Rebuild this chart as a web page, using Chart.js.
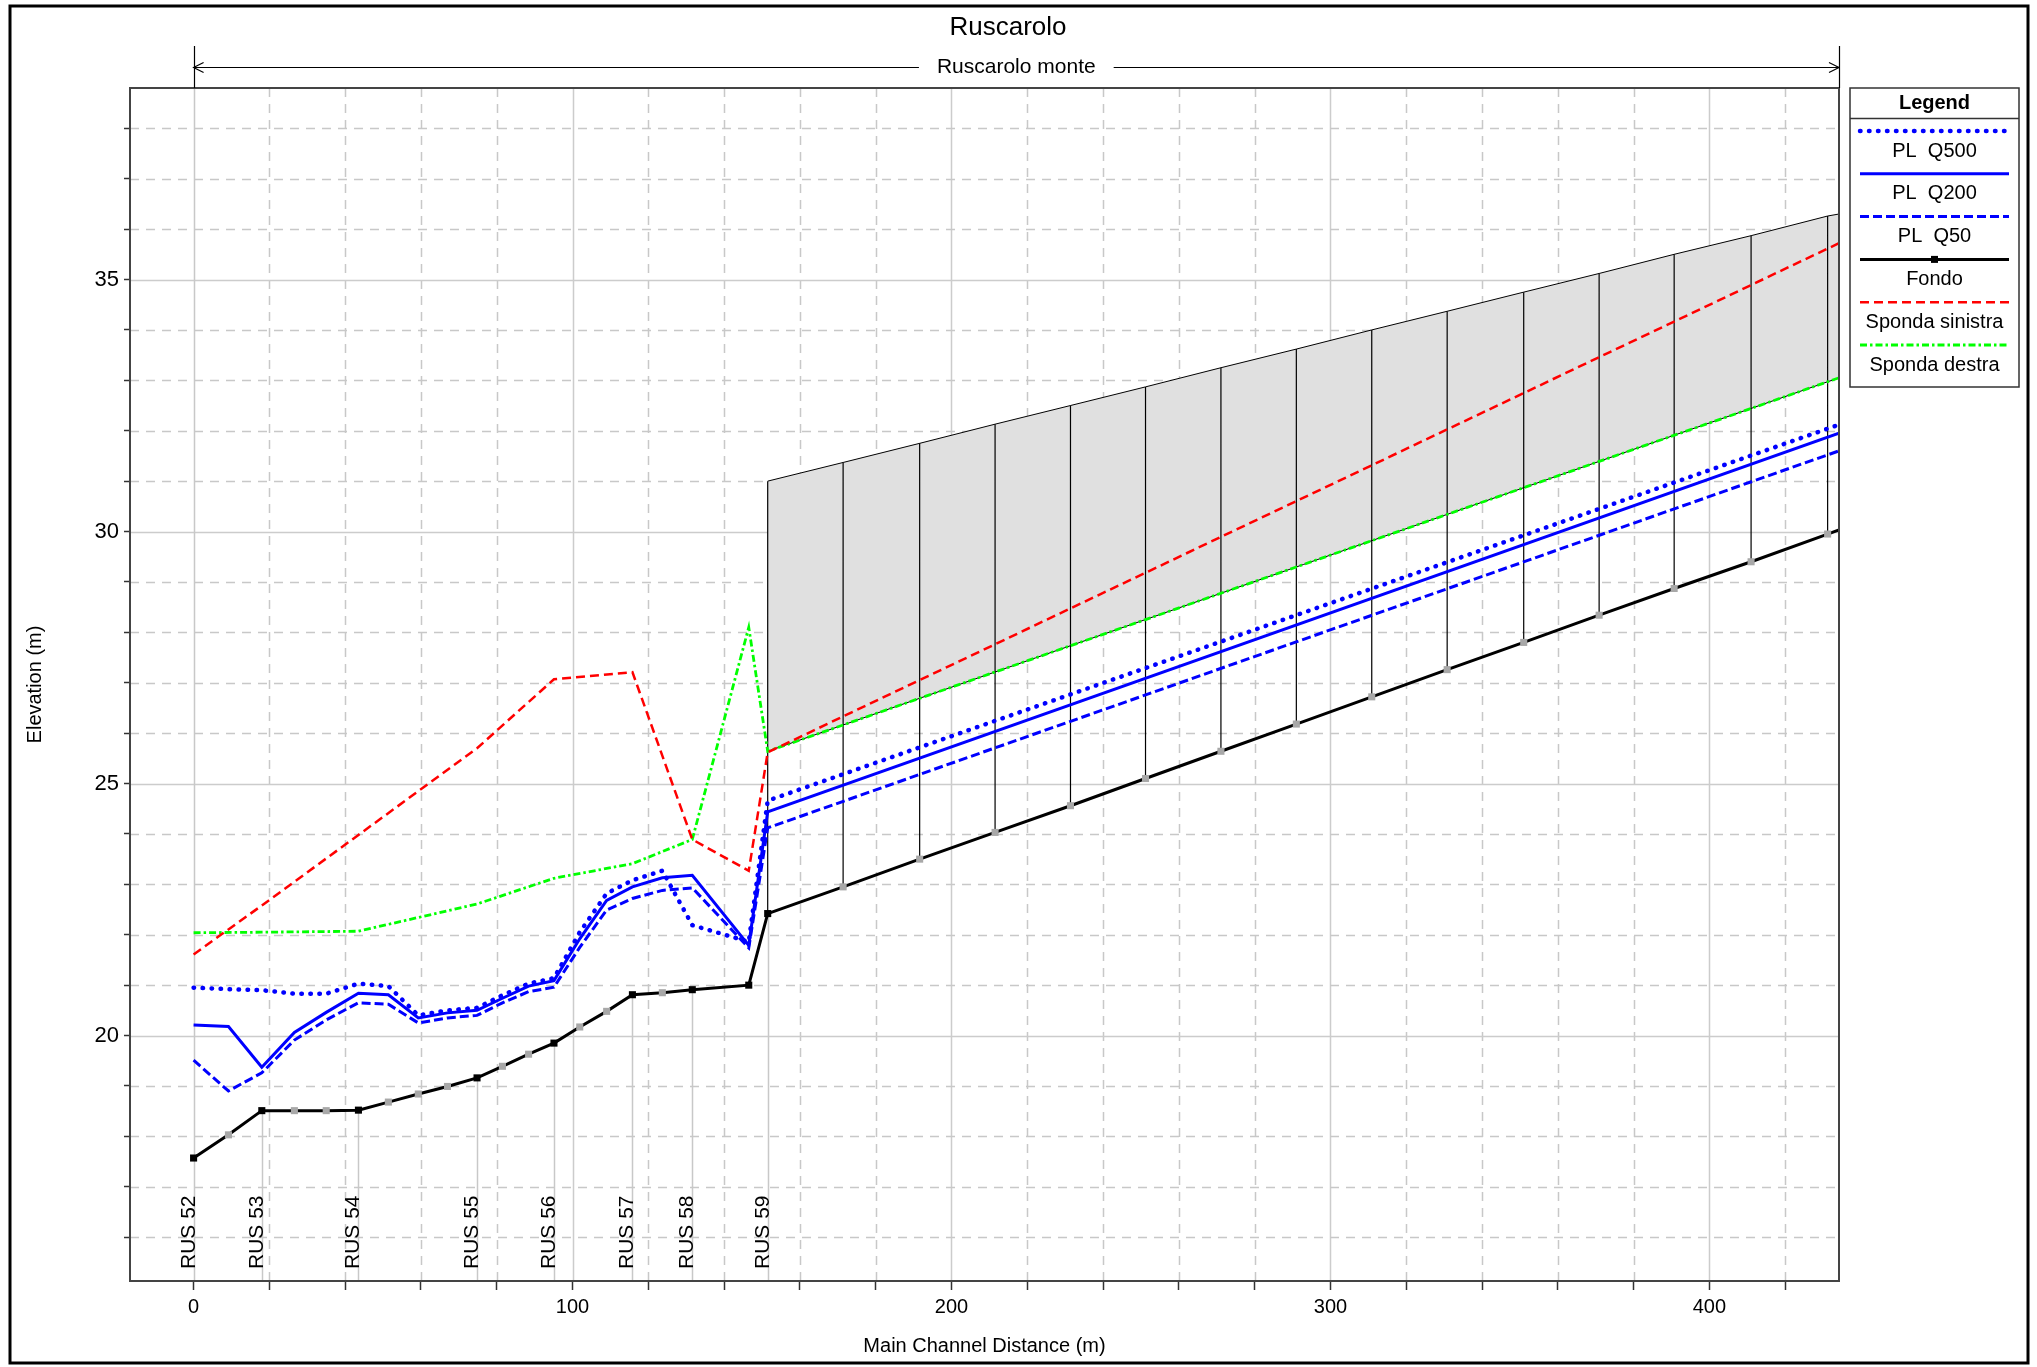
<!DOCTYPE html>
<html>
<head>
<meta charset="utf-8">
<title>Ruscarolo - profilo</title>
<script src="https://cdn.jsdelivr.net/npm/chart.js@4.4.1/dist/chart.umd.min.js"></script>
<style>
  html, body { margin: 0; padding: 0; background: #fff; }
  #wrap { position: relative; width: 2037px; height: 1367px; }
</style>
</head>
<body>
<div id="wrap"><canvas id="profile"></canvas></div>
<script>
// ======================== Data ========================

// stations of the open channel reach (m) and bed elevation (m)
const stations = [0, 9.2, 18.0, 26.6, 35.0, 43.5, 51.4, 59.3, 67.0, 74.8, 81.5, 88.4, 95.1, 101.9, 109.0, 115.8, 123.7, 131.6, 146.5, 151.5];
const fondoOpen = [17.57, 18.03, 18.51, 18.51, 18.51, 18.52, 18.68, 18.84, 18.99, 19.16, 19.39, 19.63, 19.85, 20.17, 20.48, 20.81, 20.85, 20.91, 21.00, 22.42];

// covered stretch (culvert) stations, bed and deck elevations
const culvertStations = [171.4, 191.6, 211.5, 231.4, 251.2, 271.1, 291.0, 310.9, 330.8, 351.0, 370.9, 390.7, 411.0, 431.2];
const fondoCulvert = [22.95, 23.50, 24.03, 24.56, 25.10, 25.64, 26.18, 26.72, 27.26, 27.80, 28.34, 28.87, 29.40, 29.95];
const deckTop = [31.00, 31.37, 31.75, 32.13, 32.50, 32.87, 33.25, 33.62, 34.00, 34.37, 34.75, 35.12, 35.50, 35.87, 36.26];
const reachEnd = 434.2;
const fondoEnd = 30.03;
const deckEnd = 36.30;
const lowChordX = [151.5, 434.2];
const lowChord = [25.64, 33.05];

// cross sections
const sectionX = [0, 18.0, 43.5, 74.8, 95.1, 115.8, 131.6, 151.5];
const sectionNames = ['RUS 52', 'RUS 53', 'RUS 54', 'RUS 55', 'RUS 56', 'RUS 57', 'RUS 58', 'RUS 59'];
const blackMarkers = [0, 18.0, 43.5, 74.8, 95.1, 115.8, 131.6, 146.5, 151.5];

// water surfaces (stations + reach end)
const wsX = stations.concat([reachEnd]);
const q500 = [20.95, 20.92, 20.90, 20.83, 20.83, 21.03, 20.98, 20.40, 20.50, 20.55, 20.80, 21.03, 21.14, 22.05, 22.82, 23.08, 23.27, 22.19, 21.86, 24.66, 32.12];
const q200 = [20.21, 20.18, 19.37, 20.06, 20.46, 20.84, 20.81, 20.35, 20.45, 20.50, 20.74, 20.98, 21.09, 21.92, 22.68, 22.95, 23.13, 23.18, 21.79, 24.44, 31.95];
const q50 = [19.51, 18.90, 19.26, 19.91, 20.31, 20.65, 20.62, 20.25, 20.35, 20.40, 20.65, 20.87, 20.96, 21.75, 22.49, 22.72, 22.88, 22.93, 21.74, 24.12, 31.60];

// banks
const bankX = [0, 18.0, 43.5, 74.8, 95.1, 115.8, 131.6, 146.5, 151.5, 434.2];
const spondaSinistra = [21.61, 22.58, 23.98, 25.70, 27.07, 27.21, 23.89, 23.27, 25.62, 35.72];
const spondaDestra = [22.04, 22.05, 22.07, 22.61, 23.12, 23.41, 23.89, 28.10, 25.64, 33.05];

// axes
const xLabelValues = [0, 100, 200, 300, 400];
const yLabelValues = [20, 25, 30, 35];

// ======================== Helpers ========================

const FONT = 'Liberation Sans, Arial, sans-serif';

function pts(xs, ys) {
    return xs.map((x, i) => ({ x: x, y: ys[i] }));
}

const fondoX = stations.concat(culvertStations, [reachEnd]);
const fondoY = fondoOpen.concat(fondoCulvert, [fondoEnd]);
const deckX = [151.5].concat(culvertStations);

function fondoAt(x) {
    return fondoY[fondoX.indexOf(x)];
}

// vertical lines of the covered stretch, one segment per station
const culvertLines = [];
deckX.forEach((x, i) => {
    culvertLines.push({ x: x, y: deckTop[i] });
    culvertLines.push({ x: x, y: fondoAt(x) });
    culvertLines.push({ x: x, y: null });
});

// ======================== Plugins ========================

const backdrop = {
    id: 'backdrop',
    beforeDraw(chart) {
        const { ctx, chartArea: a, scales: { x, y } } = chart;
        ctx.save();
        ctx.fillStyle = '#fff';
        ctx.fillRect(0, 0, chart.width, chart.height);

        // dashed minor grid, solid major grid
        ctx.lineWidth = 1.5;
        for (let v = 20; v < reachEnd; v += 20) {
            const p = Math.round(x.getPixelForValue(v)) + 0.5;
            const major = v % 100 === 0;
            ctx.strokeStyle = major ? '#cccccc' : '#c8c8c8';
            ctx.setLineDash(major ? [] : [9, 7]);
            ctx.beginPath();
            ctx.moveTo(p, a.top);
            ctx.lineTo(p, a.bottom);
            ctx.stroke();
        }
        for (let v = 16; v <= 38; v++) {
            const p = Math.round(y.getPixelForValue(v)) + 0.5;
            const major = v % 5 === 0;
            ctx.strokeStyle = major ? '#cccccc' : '#c8c8c8';
            ctx.setLineDash(major ? [] : [9, 7]);
            ctx.beginPath();
            ctx.moveTo(a.left, p);
            ctx.lineTo(a.right, p);
            ctx.stroke();
        }

        // cross section stations
        ctx.setLineDash([]);
        ctx.strokeStyle = '#c8c8c8';
        sectionX.forEach(s => {
            const p = Math.round(x.getPixelForValue(s)) + 0.5;
            const top = s === 0 ? a.top : y.getPixelForValue(fondoAt(s));
            ctx.beginPath();
            ctx.moveTo(p, a.bottom);
            ctx.lineTo(p, top);
            ctx.stroke();
        });
        ctx.restore();
    }
};

const annotations = {
    id: 'annotations',
    afterDraw(chart) {
        const { ctx, chartArea: a, scales: { x, y } } = chart;
        ctx.save();

        // plot frame
        ctx.strokeStyle = '#444';
        ctx.lineWidth = 2;
        ctx.strokeRect(a.left, a.top, a.right - a.left, a.bottom - a.top);

        // section names
        ctx.fillStyle = '#000';
        ctx.font = '21px ' + FONT;
        ctx.textAlign = 'left';
        ctx.textBaseline = 'alphabetic';
        sectionX.forEach((s, i) => {
            ctx.save();
            ctx.translate(x.getPixelForValue(s) + 1, a.bottom - 12);
            ctx.rotate(-Math.PI / 2);
            ctx.fillText(sectionNames[i], 0, 0);
            ctx.restore();
        });

        // title
        ctx.textAlign = 'center';
        ctx.textBaseline = 'middle';
        ctx.font = '26px ' + FONT;
        ctx.fillText('Ruscarolo', 1008, 28);

        // reach arrow
        const x0 = x.getPixelForValue(0);
        const x1 = x.getPixelForValue(reachEnd);
        const ay = 67.5;
        const mid = (x0 + x1) / 2;
        ctx.font = '21px ' + FONT;
        const half = ctx.measureText('Ruscarolo monte').width / 2 + 18;
        ctx.fillText('Ruscarolo monte', mid, ay);
        ctx.strokeStyle = '#000';
        ctx.lineWidth = 1.2;
        ctx.beginPath();
        ctx.moveTo(x0, ay); ctx.lineTo(mid - half, ay);
        ctx.moveTo(mid + half, ay); ctx.lineTo(x1, ay);
        ctx.moveTo(x0 + 10, ay - 5); ctx.lineTo(x0, ay); ctx.lineTo(x0 + 10, ay + 5);
        ctx.moveTo(x1 - 10, ay - 5); ctx.lineTo(x1, ay); ctx.lineTo(x1 - 10, ay + 5);
        ctx.moveTo(Math.round(x0) + 0.5, 46); ctx.lineTo(Math.round(x0) + 0.5, a.top);
        ctx.moveTo(Math.round(x1) + 0.5, 46); ctx.lineTo(Math.round(x1) + 0.5, a.top);
        ctx.stroke();

        // axis titles
        ctx.font = '20px ' + FONT;
        ctx.fillText('Main Channel Distance (m)', (a.left + a.right) / 2, 1346);
        ctx.save();
        ctx.translate(35, (a.top + a.bottom) / 2);
        ctx.rotate(-Math.PI / 2);
        ctx.fillText('Elevation (m)', 0, 0);
        ctx.restore();

        drawLegend(chart);

        // outer frame
        ctx.strokeStyle = '#000';
        ctx.lineWidth = 3;
        ctx.strokeRect(10, 6, 2018, 1357);
        ctx.restore();
    }
};

function drawLegend(chart) {
    const ctx = chart.ctx;
    const left = 1850, right = 2019, top = 88, bottom = 387;
    const items = [1, 2, 3, 0, 4, 5];
    ctx.save();
    ctx.fillStyle = '#fff';
    ctx.fillRect(left, top, right - left, bottom - top);
    ctx.strokeStyle = '#333';
    ctx.lineWidth = 1.5;
    ctx.strokeRect(left, top, right - left, bottom - top);
    ctx.beginPath();
    ctx.moveTo(left, 118.5);
    ctx.lineTo(right, 118.5);
    ctx.stroke();

    const cx = (left + right) / 2;
    ctx.fillStyle = '#000';
    ctx.textAlign = 'center';
    ctx.textBaseline = 'middle';
    ctx.font = 'bold 20px ' + FONT;
    ctx.fillText('Legend', cx, 103);

    ctx.font = '20px ' + FONT;
    items.forEach((idx, i) => {
        const ds = chart.data.datasets[idx];
        const ly = 131 + i * 42.8;
        ctx.strokeStyle = ds.borderColor;
        ctx.lineWidth = ds.borderWidth;
        ctx.lineCap = ds.borderCapStyle || 'butt';
        ctx.setLineDash(ds.borderDash || []);
        ctx.beginPath();
        ctx.moveTo(left + 10, ly);
        ctx.lineTo(right - 10, ly);
        ctx.stroke();
        if (idx === 0) {
            ctx.fillStyle = '#000';
            ctx.fillRect(cx - 3.5, ly - 3.5, 7, 7);
        }
        ctx.fillStyle = '#000';
        ctx.fillText(ds.label, cx, ly + 20);
    });
    ctx.restore();
}

// ======================== Chart ========================

new Chart(document.getElementById('profile'), {
    type: 'line',
    data: {
        datasets: [
            {
                label: 'Fondo',
                data: pts(fondoX, fondoY),
                borderColor: '#000',
                borderWidth: 3,
                pointStyle: 'rect',
                pointRadius: fondoX.map(v => (v === reachEnd ? 0 : 5)),
                pointBackgroundColor: fondoX.map(v => (blackMarkers.includes(v) ? '#000' : '#a8a8a8')),
                pointBorderWidth: 0
            },
            {
                label: 'PL  Q500',
                data: pts(wsX, q500),
                borderColor: '#0000ff',
                borderWidth: 4.5,
                borderDash: [0.5, 8.5],
                borderCapStyle: 'round',
                pointRadius: 0
            },
            {
                label: 'PL  Q200',
                data: pts(wsX, q200),
                borderColor: '#0000ff',
                borderWidth: 3,
                pointRadius: 0
            },
            {
                label: 'PL  Q50',
                data: pts(wsX, q50),
                borderColor: '#0000ff',
                borderWidth: 3,
                borderDash: [9, 4],
                pointRadius: 0
            },
            {
                label: 'Sponda sinistra',
                data: pts(bankX, spondaSinistra),
                borderColor: '#ff0000',
                borderWidth: 2.5,
                borderDash: [9, 5],
                pointRadius: 0
            },
            {
                label: 'Sponda destra',
                data: pts(bankX, spondaDestra),
                borderColor: '#00ff00',
                borderWidth: 2.8,
                borderDash: [7, 3, 2.5, 3],
                pointRadius: 0
            },
            {
                label: 'deck',
                data: pts(deckX.concat([reachEnd]), deckTop.concat([deckEnd])),
                borderColor: '#000',
                borderWidth: 1,
                backgroundColor: '#e0e0e0',
                fill: '+1',
                pointRadius: 0
            },
            {
                label: 'low chord',
                data: pts(lowChordX, lowChord),
                borderColor: '#000',
                borderWidth: 1,
                pointRadius: 0
            },
            {
                label: 'culvert',
                data: culvertLines,
                borderColor: '#000',
                borderWidth: 1.2,
                spanGaps: false,
                pointRadius: 0
            }
        ]
    },
    options: {
        responsive: true,
        maintainAspectRatio: false,
        animation: false,
        layout: { padding: { left: 70, right: 198, top: 88, bottom: 46 } },
        plugins: {
            legend: { display: false },
            tooltip: { enabled: false },
            filler: { drawTime: 'beforeDatasetsDraw' }
        },
        scales: {
            x: {
                type: 'linear',
                min: -16.78,
                max: reachEnd,
                afterFit(s) { s.height = 40; },
                border: { display: false },
                grid: { drawOnChartArea: false, tickLength: 9, tickColor: '#333', tickWidth: 1.5 },
                ticks: {
                    stepSize: 20,
                    includeBounds: false,
                    autoSkip: false,
                    maxRotation: 0,
                    padding: 5,
                    color: '#000',
                    font: { family: FONT, size: 20 },
                    callback: v => (xLabelValues.includes(v) ? String(v) : '')
                }
            },
            y: {
                type: 'linear',
                min: 15.13,
                max: 38.8,
                afterFit(s) { s.width = 60; },
                border: { display: false },
                grid: { drawOnChartArea: false, tickLength: 6, tickColor: '#333', tickWidth: 1.5 },
                ticks: {
                    stepSize: 1,
                    maxTicksLimit: 100,
                    includeBounds: false,
                    autoSkip: false,
                    padding: 5,
                    color: '#000',
                    font: { family: FONT, size: 22 },
                    callback: v => (yLabelValues.includes(v) ? String(v) : '')
                }
            }
        }
    },
    plugins: [backdrop, annotations]
});
</script>
</body>
</html>
